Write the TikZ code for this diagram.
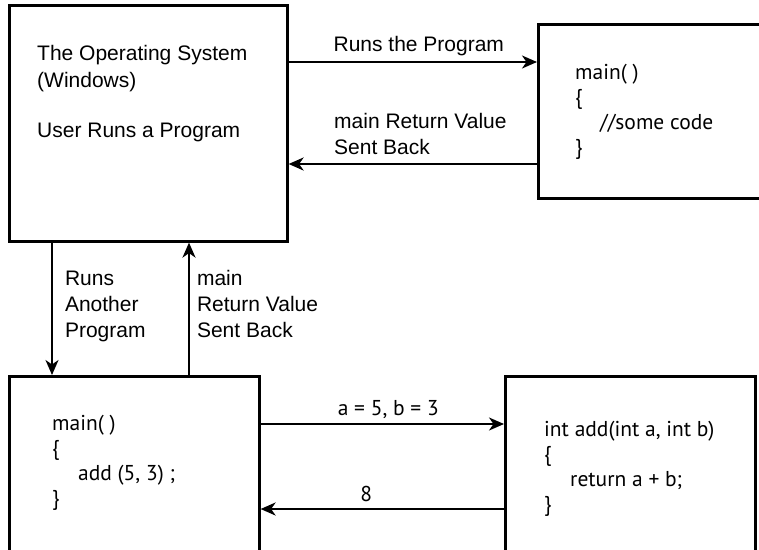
\documentclass[tikz,border=0pt]{standalone}
\usepackage{fontspec}
\setmainfont{Liberation Sans}
\newfontfamily\codefont{PT Sans}
\usetikzlibrary{arrows.meta,positioning}

\begin{document}
\begin{tikzpicture}[x=1pt,y=-1pt,
  box/.style={draw,line width=2.6pt,rectangle,anchor=north west,inner sep=0pt},
  link/.style={-{Stealth[length=15pt,width=13pt,inset=4.5pt]},line width=2.1pt},
  txt/.style={anchor=north west,inner sep=0pt,align=left,font=\fontsize{21}{27}\selectfont},
  lbl/.style={align=left,inner sep=0pt,font=\fontsize{21}{26}\selectfont},
  code/.style={anchor=north west,inner sep=0pt,align=left,font=\codefont\fontsize{21.5}{25}\selectfont},
  codelbl/.style={inner sep=0pt,font=\codefont\fontsize{21.5}{25}\selectfont}]
\useasboundingbox (0,0) rectangle (759,549);
\clip (0,0) rectangle (759,549);

% the four boxes (some run off the page)
\node[box,minimum width=278pt,minimum height=236pt] (os) at (8,4) {};
\node[box,minimum width=400pt,minimum height=174pt] (prog) at (537,23) {};
\node[box,minimum width=250pt,minimum height=200pt] (caller) at (8,375) {};
\node[box,minimum width=250pt,minimum height=200pt] (adder) at (504,375) {};

% box contents
\node[txt] (ostext) at (37,45) {The Operating System\\(Windows)\\[23pt]User Runs a Program};
\node[code] (progcode) at (575,64) {main( )\\\{\\\hspace*{25pt}//some code\\\}};
\node[code] (callercode) at (52,415) {main( )\\\{\\\hspace*{26pt}add (5, 3) ;\\\}};
\node[code] (addercode) at (544,421) {int add(int a, int b)\\\{\\\hspace*{26pt}return a + b;\\\}};

% OS <-> program
\draw[link] (os.east |- 0,62) -- node[lbl,above=5pt,xshift=6pt] (runlbl) {Runs the Program} (prog.west |- 0,62);
\draw[link] (prog.west |- 0,164) -- (os.east |- 0,164);
\node[lbl,anchor=south west] (backlbl) at (334,155) {main Return Value\\Sent Back};

% OS <-> calling program
\draw[link] (os.south -| 52,0) -- node[lbl,right=12pt,yshift=2pt] (anotherlbl) {Runs\\Another\\Program} (caller.north -| 52,0);
\draw[link] (caller.north -| 189,0) -- node[lbl,right=7pt,yshift=5pt] (mainlbl) {main\\Return Value\\Sent Back} (os.south -| 189,0);

% main <-> add
\draw[link] (caller.east |- 0,424) -- node[codelbl,above=4pt,xshift=6pt] (argslbl) {a = 5, b = 3} (adder.west |- 0,424);
\draw[link] (adder.west |- 0,509) -- node[codelbl,above=6pt,xshift=-16pt] (reslbl) {8} (caller.east |- 0,509);
\end{tikzpicture}
\end{document}
